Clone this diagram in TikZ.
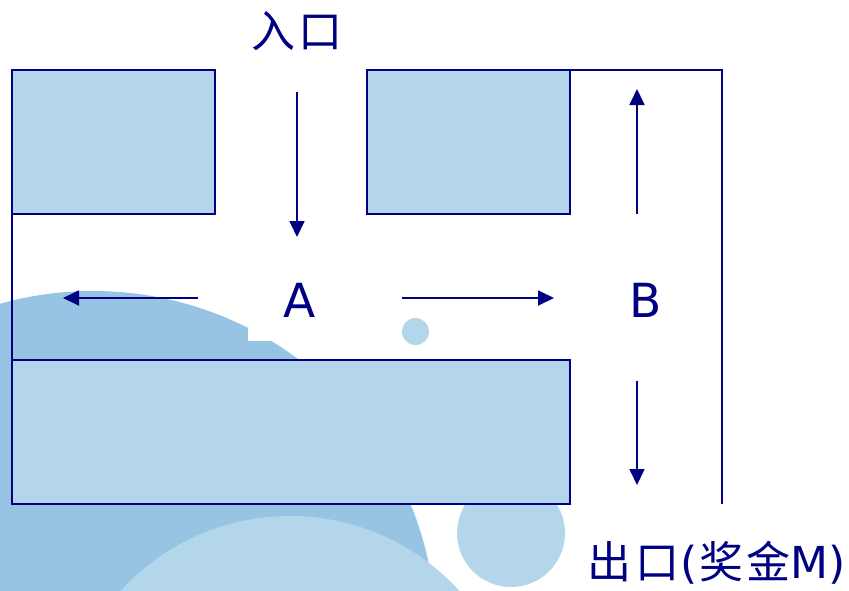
\documentclass[tikz,border=0pt]{standalone}
\usepackage{fontspec}
\usetikzlibrary{arrows.meta}
\newfontfamily\cjk{Noto Sans CJK SC}
\newfontfamily\lat{DejaVu Sans}
\definecolor{navy}{RGB}{0,0,130}
\definecolor{roomfill}{RGB}{180,214,234}
\definecolor{bgdark}{RGB}{151,196,226}
\tikzset{
  room/.style={draw=navy, line width=1.7pt, fill=roomfill},
  wall/.style={draw=navy, line width=1.7pt},
  dirarrow/.style={draw=navy, line width=1.8pt, -{Triangle[length=16pt,width=15pt]}},
  lbl/.style={text=navy, inner sep=0pt, font=\lat\fontsize{47}{50}\selectfont},
  cjklbl/.style={text=navy, inner sep=0pt, font=\fontsize{44}{48}\selectfont},
}
\begin{document}
\begin{tikzpicture}[x=1pt,y=-1pt]
\useasboundingbox (0,0) rectangle (849,590);
% background decoration
\begin{scope}
\clip (0,0) rectangle (849,590);
\fill[bgdark] (93,634) circle[radius=343];
\fill[roomfill] (290,745) circle[radius=229];
\fill[roomfill] (511,533) circle[radius=54];
\fill[roomfill] (415.5,331.5) circle[radius=13.5];
\fill[white] (248,255) rectangle (352,341);
\end{scope}
% rooms
\draw[room] (12,70) rectangle (215,214);
\draw[room] (367,70) rectangle (570,214);
\draw[room] (12,360) rectangle (570,504);
% walls
\draw[wall] (12,70) -- (12,504);
\draw[wall] (385,70) -- (722,70) -- (722,504);
% labels
\node[lbl] (A) at (300,300) {A};
\node[lbl] (B) at (646,300) {B};
\node[cjklbl] (in) at (297,31) {\cjk 入\hspace{3pt}口};
\node[cjklbl, anchor=east] (out) at (846,563) {{\cjk 出\hspace{4pt}口}{\lat\hspace{1pt}(}{\cjk\hspace{2pt}奖\hspace{3pt}金}{\lat M)}};
% arrows
\coordinate (d1s) at (297,92);  \coordinate (d1e) at (297,237);
\coordinate (l1s) at (198,298); \coordinate (l1e) at (63,298);
\coordinate (r1s) at (402,298); \coordinate (r1e) at (554,298);
\coordinate (u1s) at (637,214); \coordinate (u1e) at (637,89);
\coordinate (d2s) at (637,381); \coordinate (d2e) at (637,485);
\draw[dirarrow] (d1s) -- (d1e);
\draw[dirarrow] (l1s) -- (l1e);
\draw[dirarrow] (r1s) -- (r1e);
\draw[dirarrow] (u1s) -- (u1e);
\draw[dirarrow] (d2s) -- (d2e);
\end{tikzpicture}
\end{document}
